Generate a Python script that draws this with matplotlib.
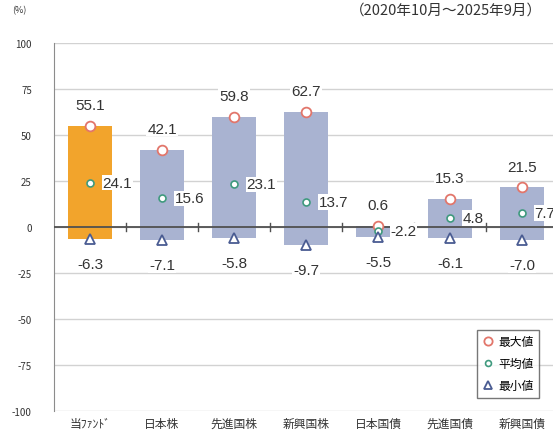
import numpy as np
import matplotlib.pyplot as plt

plt.rcParams['font.family'] = ['Noto Sans CJK JP', 'DejaVu Sans']
plt.rcParams['axes.unicode_minus'] = False

categories = ['当ﾌｧﾝﾄﾞ', '日本株', '先進国株', '新興国株', '日本国債', '先進国債', '新興国債']
max_vals = [55.1, 42.1, 59.8, 62.7, 0.6, 15.3, 21.5]
avg_vals = [24.1, 15.6, 23.1, 13.7, -2.2, 4.8, 7.7]
min_vals = [-6.3, -7.1, -5.8, -9.7, -5.5, -6.1, -7.0]

bar_colors = ['#F2A42C'] + ['#A9B3D1'] * 6

fig = plt.figure(figsize=(5.53, 4.35), dpi=100)
ax = fig.add_axes([54 / 553, 23 / 435, 504 / 553, 368 / 435])

x = np.arange(len(categories))
heights = np.array(max_vals) - np.array(min_vals)
ax.bar(x, heights, bottom=min_vals, width=0.61, color=bar_colors, zorder=2)

ax.plot(x, max_vals, 'o', ms=7, mfc='white', mec='#E2766B', mew=1.3, ls='none', zorder=4, label='最大値')
ax.plot(x, avg_vals, 'o', ms=5, mfc='white', mec='#3F9A7E', mew=1.2, ls='none', zorder=4, label='平均値')
ax.plot(x, min_vals, '^', ms=7, mfc='white', mec='#4A5C92', mew=1.3, ls='none', zorder=4, label='最小値')

lbl = dict(fontsize=11, color='#333333', family=['Liberation Sans'], zorder=5,
           bbox=dict(fc='white', ec='none', pad=0.5))
for i in range(len(categories)):
    ax.annotate(f'{max_vals[i]:.1f}', (i, max_vals[i]), xytext=(0, 15), textcoords='offset points',
                ha='center', va='center', **lbl)
    ax.annotate(f'{avg_vals[i]:.1f}', (i, avg_vals[i]), xytext=(9, 0), textcoords='offset points',
                ha='left', va='center', **lbl)
    ax.annotate(f'{min_vals[i]:.1f}', (i, min_vals[i]), xytext=(0, -18), textcoords='offset points',
                ha='center', va='center', **lbl)

ax.set_xlim(-0.5, len(categories) - 0.5)
ax.set_ylim(-100, 100)
ax.set_yticks(np.arange(-100, 101, 25))
ax.yaxis.grid(True, color='#D2D2D2', lw=1, zorder=0)
ax.set_axisbelow(True)
ax.tick_params(axis='y', length=0, labelsize=7, labelcolor='#333333', pad=16)
ax.set_xticks(x)
ax.set_xticklabels(categories, fontsize=8.5, color='#333333')
ax.tick_params(axis='x', length=0, pad=4)

for s in ['top', 'right', 'bottom']:
    ax.spines[s].set_visible(False)
ax.spines['left'].set_color('#8C8C8C')

# zero line with small category separators
ax.axhline(0, color='#505050', lw=1.3, zorder=3)
for b in np.arange(0.5, len(categories) - 0.5):
    ax.plot([b, b], [-2, 2], color='#505050', lw=1, zorder=3)

leg = ax.legend(loc='lower right', fontsize=8.5, frameon=True, fancybox=False, edgecolor='#555555',
                handletextpad=0.3, handlelength=1.0, borderpad=0.5, labelspacing=0.75,
                markerscale=0.85)
leg.get_frame().set_linewidth(1)
leg.set_zorder(6)
leg.set_bbox_to_anchor((545 / 553, 30 / 435), transform=fig.transFigure)

fig.text(12 / 553, 1 - 11 / 435, '(%)', fontsize=6.5, color='#333333', va='center')
fig.text(350 / 553, 1 - 11 / 435, '（2020年10月～2025年9月）', fontsize=10.5, color='#333333', va='center')

fig.savefig('out.png', dpi=100)
